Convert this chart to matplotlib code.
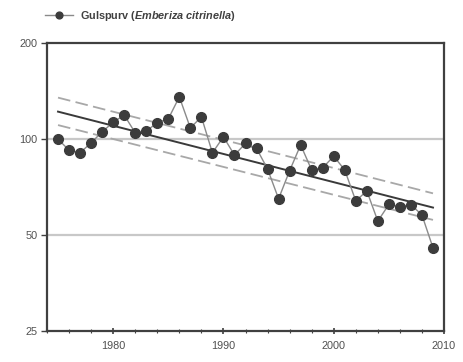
import numpy as np
import matplotlib
matplotlib.use("Agg")
import matplotlib.pyplot as plt
from matplotlib.ticker import FixedLocator, NullLocator, MultipleLocator

plt.rcParams['font.family'] = ['Liberation Sans', 'DejaVu Sans']
plt.rcParams['mathtext.fontset'] = 'custom'
plt.rcParams['mathtext.bfit'] = 'Liberation Sans:italic:bold'
plt.rcParams['mathtext.it'] = 'Liberation Sans:italic'
plt.rcParams['mathtext.bf'] = 'Liberation Sans:bold'

# index values per year
years = list(range(1975, 2010))
index = [100, 92.3, 90.6, 97.4, 105.4, 113, 119, 104.7, 106, 112.6,
         115.8, 135.7, 108.4, 117.5, 90.6, 101.7, 89.1, 97, 93.5, 80.6,
         65, 79.6, 95.9, 80, 81.3, 88.4, 80, 64, 68.8, 55.3,
         62.4, 61.3, 62.3, 57.8, 45.6]

# trend line and confidence band, start and end values
trend_years = [1975, 2009]
trend = [122, 61]
upper = [135, 67.6]
lower = [110.7, 55.8]

yticks = [25, 50, 100, 200]

fig = plt.figure(figsize=(4.63, 3.62), dpi=100)
ax = fig.add_axes([0.1015, 0.0856, 0.8575, 0.795])

for g in [50, 100]:
    ax.axhline(g, color='#c8c8c8', lw=1.6, zorder=0)

ax.plot(trend_years, upper, color='#a8a8a8', lw=1.3, dashes=(7, 3), zorder=2)
ax.plot(trend_years, lower, color='#a8a8a8', lw=1.3, dashes=(7, 3), zorder=2)
ax.plot(trend_years, trend, color='#3a3a3a', lw=1.4, zorder=3)
ax.plot(years, index, color='#8a8a8a', lw=1.0, marker='o', ms=7,
        mfc='#3c3c3c', mec='#3c3c3c', zorder=4,
        label=r'Gulspurv ($\mathbfit{Emberiza\ citrinella}$)')

ax.set_yscale('log')
ax.set_ylim(25, 200)
ax.set_xlim(1974, 2010)
ax.yaxis.set_major_locator(FixedLocator(yticks))
ax.yaxis.set_minor_locator(NullLocator())
ax.set_yticklabels([str(t) for t in yticks])
ax.xaxis.set_major_locator(FixedLocator([1980, 1990, 2000, 2010]))
ax.xaxis.set_minor_locator(MultipleLocator(2))

for s in ax.spines.values():
    s.set_color('#404040')
    s.set_linewidth(1.6)

ax.tick_params(axis='x', which='major', direction='inout', length=5, width=1.2,
               color='#404040', labelsize=7.8, labelcolor='#505050', pad=5)
ax.tick_params(axis='x', which='minor', direction='inout', length=3, width=0.8,
               color='#404040')
ax.tick_params(axis='y', which='major', direction='out', length=4, width=1,
               color='#404040', labelsize=7.8, labelcolor='#505050', pad=3)

leg = ax.legend(loc='lower left', bbox_to_anchor=(-0.005, 1.07), frameon=False,
                prop={'size': 7.8, 'weight': 'bold'}, handlelength=2.6,
                handletextpad=0.6, borderaxespad=0, borderpad=0,
                markerscale=0.7)
for t in leg.get_texts():
    t.set_color('#404040')

fig.savefig('out.png', dpi=100)
